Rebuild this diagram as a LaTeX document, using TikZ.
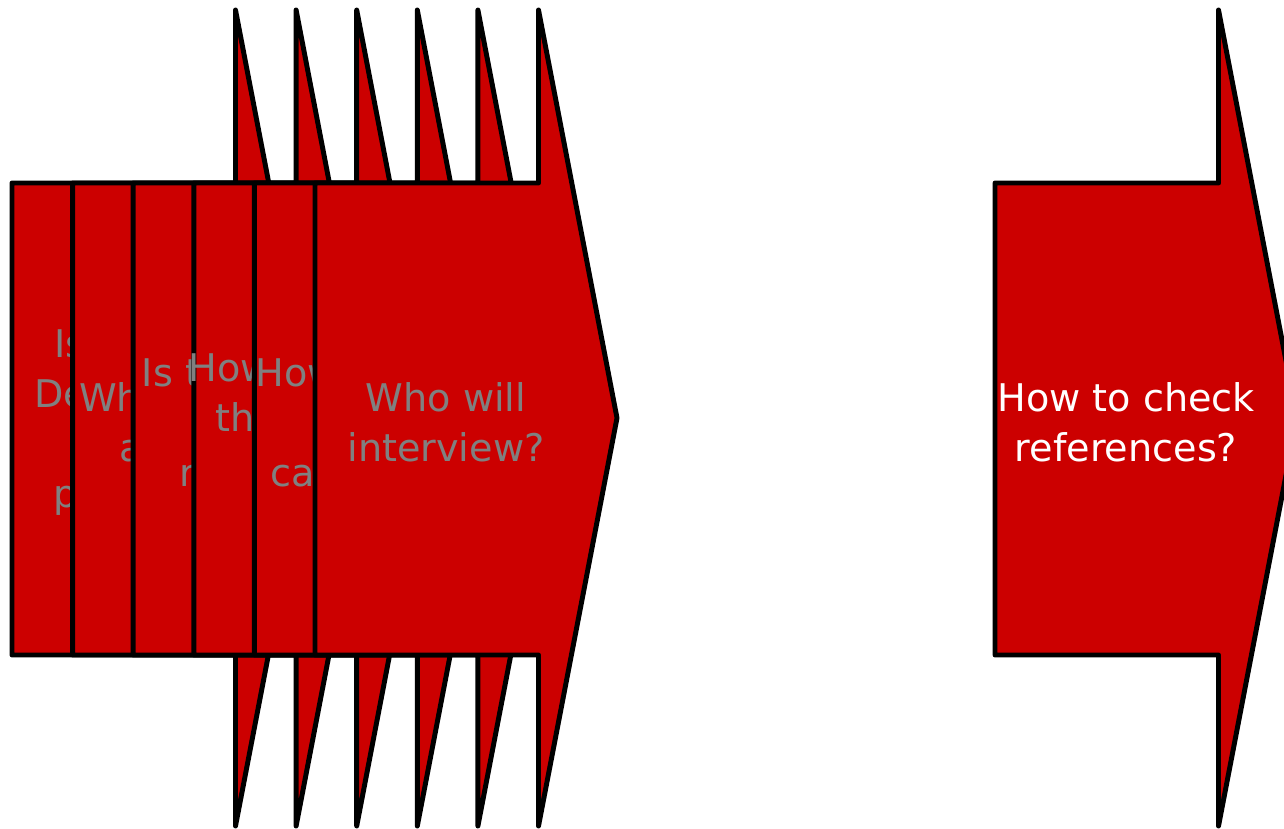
\documentclass[tikz,border=0pt]{standalone}
\usepackage{fontspec}
\newfontfamily\dvsans{DejaVu Sans}
\definecolor{arrowred}{HTML}{CC0000}
\definecolor{txtgray}{HTML}{808080}
\tikzset{
  bigarrow/.style={fill=arrowred, draw=black, line width=3.7pt, line join=round, line cap=round},
  arrowtext/.style={font=\dvsans\fontsize{28.6}{37.5}\selectfont, align=center, inner sep=0pt},
}
\newcommand{\arrowshape}[1]{%
  \path[bigarrow] (#1,183) -- (#1+223.5,183) -- (#1+223.5,10) -- (#1+302,418)
    -- (#1+223.5,826) -- (#1+223.5,655) -- (#1,655) -- cycle;}
\begin{document}
\begin{tikzpicture}[x=0.75pt,y=-0.75pt]
\useasboundingbox (0,0) rectangle (1284,828);
\clip (0,0) rectangle (1284,828);
\arrowshape{12}
\node[arrowtext, text=txtgray] (q1) at (143,422) {Is the Job\\Description\\written\\properly?};
\arrowshape{72.6}
\node[arrowtext, text=txtgray] (q2) at (203.6,422) {What are the\\abilities?};
\arrowshape{133.2}
\node[arrowtext, text=txtgray] (q3) at (264.2,422) {Is the search\\process\\realistic?};
\arrowshape{193.8}
\node[arrowtext, text=txtgray] (q4) at (324.8,422) {How to screen\\the resume\\pool?};
\arrowshape{254.4}
\node[arrowtext, text=txtgray] (q5) at (385.4,422) {How to select\\the\\candidates?};
\arrowshape{315}
\node[arrowtext, text=txtgray] (q6) at (446,422) {Who will\\interview?};
\arrowshape{995}
\node[arrowtext, text=white] (q7) at (1126,422) {How to check\\references?};
\end{tikzpicture}
\end{document}
